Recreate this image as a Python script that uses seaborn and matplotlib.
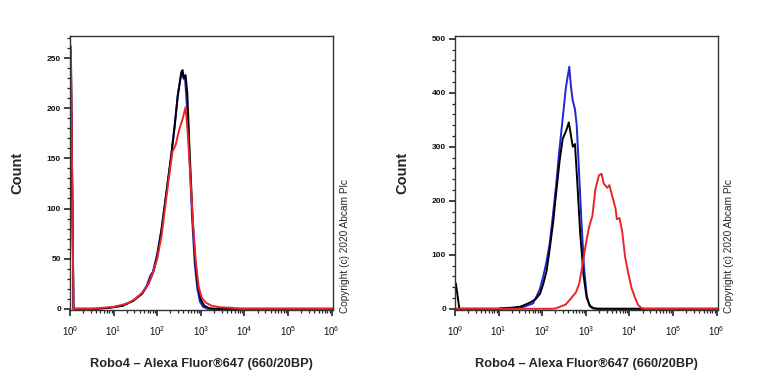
"""Flow cytometry overlay histograms: Robo4 staining, two panels."""
import matplotlib
matplotlib.use("Agg")
import matplotlib.pyplot as plt
from matplotlib.ticker import FixedLocator, MultipleLocator, NullFormatter
import numpy as np
import pandas as pd
import seaborn as sns

# ---- data (x given as log10 of fluorescence intensity, y as event count) ----
left_blue_log = [0.02, 0.08, 0.6, 0.9, 1.2, 1.45, 1.65, 1.75, 1.84, 1.9, 2.0, 2.1, 2.25, 2.32,
                 2.4, 2.47, 2.56, 2.6, 2.64, 2.7, 2.75, 2.8, 2.86, 2.92, 2.98, 3.05, 3.15, 6.03]
left_blue_cnt = [250, 0, 0, 1, 3, 8, 15, 22, 33, 37, 55, 80, 130, 153,
                 183, 213, 237, 230, 228, 190, 140, 90, 45, 20, 7, 2, 0, 0]

left_black_log = [0.02, 0.08, 0.6, 0.9, 1.2, 1.45, 1.65, 1.8, 1.92, 2.0, 2.1, 2.25, 2.32, 2.4,
                  2.47, 2.55, 2.58, 2.61, 2.65, 2.69, 2.74, 2.81, 2.87, 2.92, 3.0, 3.08,
                  3.2, 3.3, 6.03]
left_black_cnt = [258, 0, 0, 1, 3, 8, 15, 25, 38, 52, 79, 129, 152, 182,
                  212, 235, 238, 230, 233, 215, 160, 92, 48, 26, 9, 3,
                  0.5, 0, 0]

left_red_log = [0.02, 0.08, 0.5, 0.75, 1.0, 1.2, 1.35, 1.5, 1.65, 1.8, 1.9, 2.0, 2.1, 2.25,
                2.35, 2.42, 2.5, 2.58, 2.65, 2.7, 2.76, 2.82, 2.88, 2.95, 3.02, 3.12,
                3.25, 3.45, 3.7, 3.9, 6.03]
left_red_cnt = [262, 0, 0, 1, 2, 4, 6, 10, 16, 25, 36, 50, 73, 125,
                157, 163, 178, 189, 201, 175, 132, 85, 49, 22, 11, 6,
                3, 1.5, 1, 0, 0]

right_blue_log = [0.02, 1.34, 1.49, 1.79, 1.94, 2.02, 2.09, 2.17, 2.24, 2.32, 2.39, 2.47,
                  2.54, 2.62, 2.66, 2.7, 2.75, 2.79, 2.84, 2.9, 2.96, 3.02, 3.08, 3.15,
                  3.25, 6.03]
right_blue_cnt = [0, 0, 1, 10, 35, 59, 84, 120, 170, 230, 292, 353,
                  408, 448, 410, 385, 370, 340, 260, 160, 75, 25, 6, 1,
                  0, 0]

right_black_log = [0.02, 0.1, 1.0, 1.05, 1.3, 1.5, 1.65, 1.73, 1.85, 1.95, 2.02, 2.1, 2.17,
                   2.25, 2.32, 2.4, 2.47, 2.55, 2.61, 2.66, 2.7, 2.75, 2.8, 2.87, 2.95,
                   3.02, 3.1, 3.18, 3.3, 6.03]
right_black_cnt = [47, 0, 0, 1, 2, 4, 9, 12, 18, 28, 45, 70, 110,
                   160, 215, 275, 315, 330, 345, 320, 300, 305, 240, 140, 60,
                   20, 5, 1, 0, 0]

right_red_log = [0.02, 2.24, 2.32, 2.54, 2.77, 2.85, 2.92, 3.0, 3.07, 3.15, 3.22, 3.3, 3.36,
                 3.41, 3.49, 3.54, 3.6, 3.68, 3.71, 3.77, 3.83, 3.9, 3.98, 4.05, 4.13,
                 4.2, 4.28, 4.35, 6.03]
right_red_cnt = [0, 0, 1, 8, 30, 47, 80, 120, 150, 172, 222, 247, 250,
                 232, 224, 229, 210, 186, 166, 168, 145, 96, 63, 38, 20,
                 7, 1, 0, 0]

decade_labels = [r"$10^{%d}$" % d for d in range(7)]
x_label = "Robo4 \u2013 Alexa Fluor\u00ae647 (660/20BP)"
copyright_text = "Copyright (c) 2020 Abcam Plc"

BLUE = "#2424d8"
BLACK = "#000000"
RED = "#e8262a"

sns.set_style("ticks")
plt.rcParams["font.family"] = ["Liberation Sans", "DejaVu Sans"]
plt.rcParams["mathtext.fontset"] = "custom"
plt.rcParams["mathtext.rm"] = "Liberation Sans"
plt.rcParams["mathtext.it"] = "Liberation Sans"


def to_frame(log_vals, counts):
    return pd.DataFrame({"intensity": 10 ** np.asarray(log_vals, dtype=float),
                         "count": counts})


def draw_panel(ax, series, ymax, y_major, y_minor):
    for (log_vals, counts), color in series:
        sns.lineplot(data=to_frame(log_vals, counts), x="intensity", y="count",
                     color=color, lw=1.4, estimator=None, sort=False, ax=ax)
    ax.set_xscale("log")
    ax.set_xlim(1, 10 ** 6.03)
    ax.set_ylim(-1.2 * ymax / 272, ymax)
    ax.xaxis.set_major_locator(FixedLocator([10.0 ** d for d in range(7)]))
    ax.set_xticklabels(decade_labels)
    minors = [m * 10.0 ** d for d in range(6) for m in range(2, 10)]
    ax.xaxis.set_minor_locator(FixedLocator(minors))
    ax.xaxis.set_minor_formatter(NullFormatter())
    ax.yaxis.set_major_locator(MultipleLocator(y_major))
    ax.yaxis.set_minor_locator(MultipleLocator(y_minor))
    ax.tick_params(axis="both", which="major", length=4.5, width=1.1,
                   labelsize=6, pad=2, color="#111111", labelcolor="#111111")
    ax.tick_params(axis="both", which="minor", length=2.5, width=0.9,
                   color="#222222")
    ax.tick_params(axis="x", which="major", labelsize=7, pad=6)
    for lab in ax.get_yticklabels():
        lab.set_fontweight("bold")
    for spine in ax.spines.values():
        spine.set_visible(True)
        spine.set_color("#333333")
        spine.set_linewidth(1.0)
    ax.set_xlabel(x_label, fontsize=9.2, fontweight="bold")
    ax.xaxis.set_label_coords(0.5, -0.175)
    ax.set_ylabel("Count", fontsize=10.5, fontweight="bold")
    ax.yaxis.set_label_coords(-0.173, 0.5)


fig = plt.figure(figsize=(7.68, 3.84), dpi=100)
ax_l = fig.add_axes([70 / 768, 74 / 384, 263 / 768, 274 / 384])
ax_r = fig.add_axes([455 / 768, 74 / 384, 263 / 768, 274 / 384])

draw_panel(ax_l, [((left_blue_log, left_blue_cnt), BLUE),
                  ((left_black_log, left_black_cnt), BLACK),
                  ((left_red_log, left_red_cnt), RED)],
           ymax=272, y_major=50, y_minor=10)
draw_panel(ax_r, [((right_blue_log, right_blue_cnt), BLUE),
                  ((right_black_log, right_black_cnt), BLACK),
                  ((right_red_log, right_red_cnt), RED)],
           ymax=505, y_major=100, y_minor=20)

for x_px in (345, 729):
    fig.text(x_px / 768, 71 / 384, copyright_text, rotation=90,
             ha="center", va="bottom", fontsize=7.3)

fig.savefig("out.png", dpi=100)
plt.close(fig)
